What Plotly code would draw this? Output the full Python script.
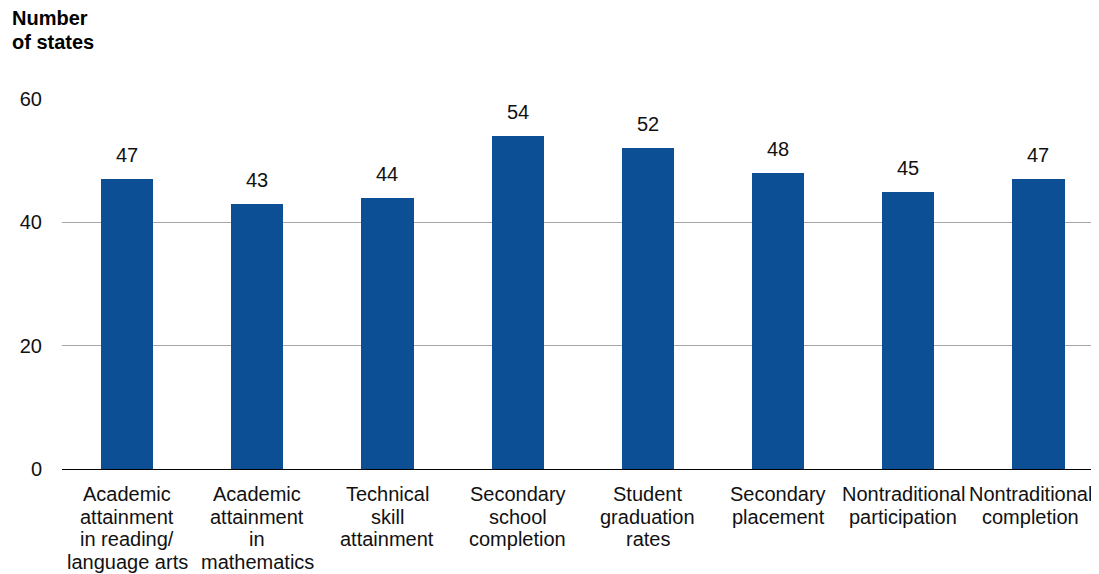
import plotly.graph_objects as go

categories = [
    "Academic<br>attainment<br>in reading/<br>language arts",
    "Academic<br>attainment<br>in<br>mathematics",
    "Technical<br>skill<br>attainment",
    "Secondary<br>school<br>completion",
    "Student<br>graduation<br>rates",
    "Secondary<br>placement",
    "Nontraditional<br>participation",
    "Nontraditional<br>completion",
]
values = [47, 43, 44, 54, 52, 48, 45, 47]
y_ticks = [0, 20, 40, 60]
title_lines = ["Number", "of states"]

FONT = "Liberation Sans, Arial, sans-serif"
BAR = "#0d4f94"
TXT = "#111111"
FS = 20
LINE = 22.7

fig = go.Figure()
fig.add_trace(go.Bar(
    x=list(range(len(categories))), y=values,
    marker=dict(color=BAR, line=dict(width=0)),
    width=0.4, hoverinfo="skip",
))

# value labels with white background (break the gridline like the reference)
for i, v in enumerate(values):
    fig.add_annotation(
        x=i, y=v, xref="x", yref="y", text=str(v), showarrow=False,
        yanchor="middle", yshift=24, bgcolor="white", width=40,
        font=dict(family=FONT, size=FS, color=TXT),
    )

# category labels, line by line for tight line spacing
n = len(categories)
for i, cat in enumerate(categories):
    # nudge the two right-most labels so they do not collide / overflow
    shift_x = {n - 2: -5, n - 1: -8}.get(i, 0)
    for k, line in enumerate(cat.split("<br>")):
        fig.add_annotation(
            x=i, y=0, xref="x", yref="paper", text=line, showarrow=False,
            xanchor="center", yanchor="middle", yshift=-(25 + LINE * k),
            xshift=shift_x,
            font=dict(family=FONT, size=FS, color=TXT),
        )

# axis title
for k, line in enumerate(title_lines):
    fig.add_annotation(
        xref="paper", yref="paper", x=0, y=1, xanchor="left", yanchor="middle",
        xshift=-52, yshift=81 - 24 * k, showarrow=False,
        text="<b>" + line + "</b>",
        font=dict(family=FONT, size=FS, color="#000000"),
    )

fig.update_layout(
    width=1091, height=566,
    margin=dict(l=54, r=0, t=91, b=105),
    plot_bgcolor="white", paper_bgcolor="white",
    showlegend=False, bargap=0,
    font=dict(family=FONT, size=FS, color=TXT),
    xaxis=dict(
        tickmode="array", tickvals=list(range(n)),
        ticktext=[""] * n,
        range=[-0.5, 7.465], showgrid=False, zeroline=False,
        showline=True, linecolor="#000000", linewidth=1, ticks="",
    ),
    yaxis=dict(
        range=[0, 60], tickvals=y_ticks, showgrid=True, gridcolor="#a6a6a6",
        gridwidth=1, zeroline=False, showline=False, ticks="",
        ticklabelstandoff=19,
        tickfont=dict(family=FONT, size=FS, color=TXT),
    ),
)

fig.write_html("out.html")
